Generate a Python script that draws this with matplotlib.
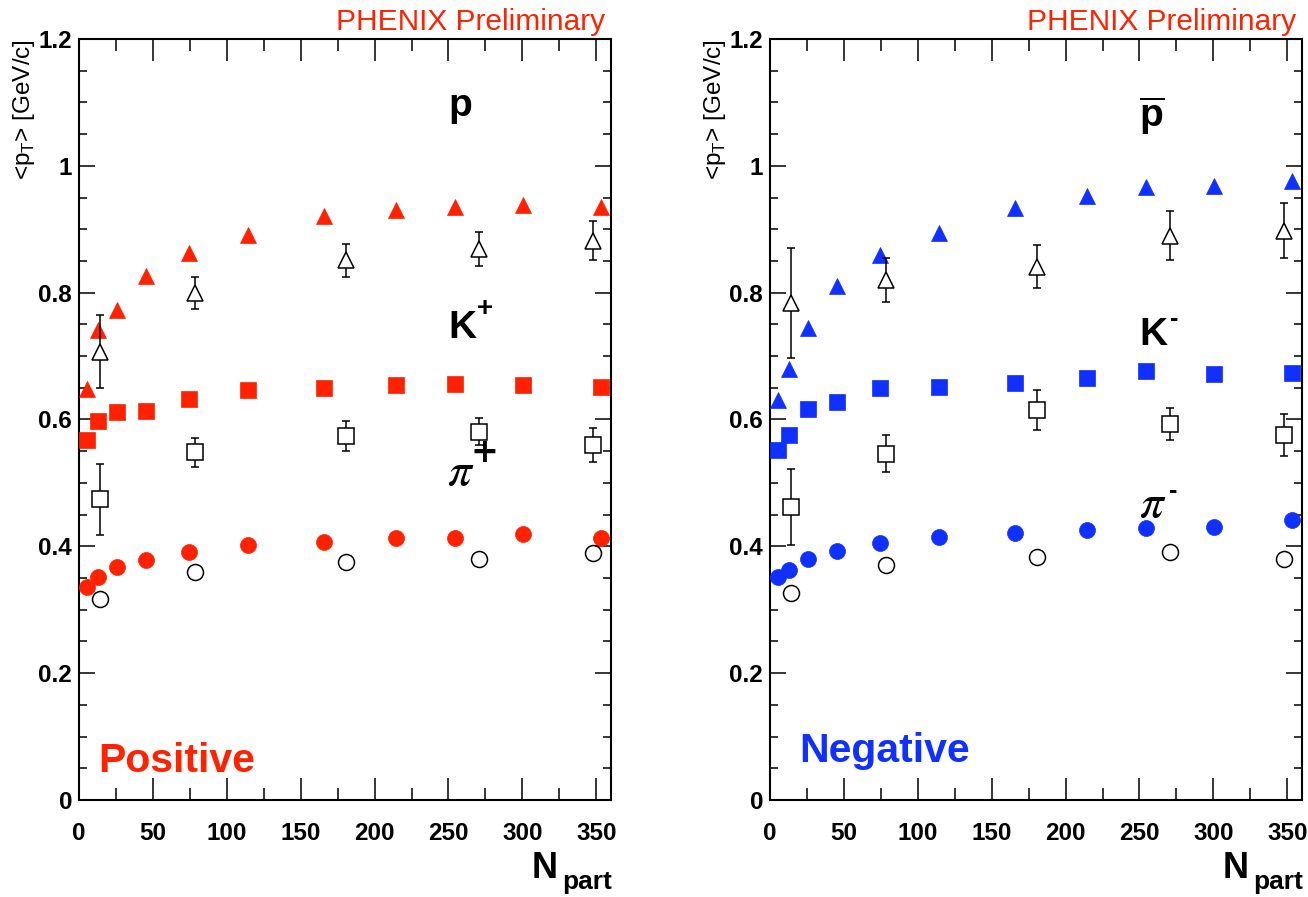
import numpy as np
import matplotlib
matplotlib.use("Agg")
import matplotlib.pyplot as plt
from matplotlib.ticker import MultipleLocator, FuncFormatter
from matplotlib.transforms import offset_copy

plt.rcParams["font.family"] = ["Liberation Sans", "DejaVu Sans"]
plt.rcParams["mathtext.fontset"] = "custom"
plt.rcParams["mathtext.rm"] = "Liberation Sans"
plt.rcParams["mathtext.bf"] = "Liberation Sans:bold"

# ---- data -------------------------------------------------------------
npart = [5.5, 13.0, 25.7, 45.5, 74.3, 114.3, 166.0, 214.6, 254.5, 300.5, 353.5]
npart_open = [13.9, 78.8, 180.5, 271.0, 348.0]

pos_pi = [0.336, 0.352, 0.367, 0.378, 0.391, 0.402, 0.407, 0.413, 0.413, 0.419, 0.413]
pos_k = [0.568, 0.598, 0.612, 0.614, 0.633, 0.647, 0.649, 0.654, 0.656, 0.654, 0.651]
pos_p = [0.648, 0.741, 0.773, 0.827, 0.862, 0.891, 0.921, 0.931, 0.935, 0.939, 0.935]

neg_pi = [0.351, 0.362, 0.380, 0.393, 0.405, 0.415, 0.421, 0.426, 0.429, 0.431, 0.442]
neg_k = [0.552, 0.575, 0.617, 0.628, 0.649, 0.652, 0.657, 0.666, 0.676, 0.671, 0.673]
neg_p = [0.631, 0.679, 0.744, 0.811, 0.860, 0.894, 0.933, 0.953, 0.966, 0.968, 0.976]

pos_pi_open = [0.317, 0.359, 0.375, 0.380, 0.389]
pos_k_open = [0.474, 0.548, 0.574, 0.581, 0.560]
pos_k_open_err = [0.056, 0.023, 0.023, 0.021, 0.027]
pos_p_open = [0.707, 0.800, 0.851, 0.869, 0.882]
pos_p_open_err = [0.057, 0.025, 0.026, 0.027, 0.031]

neg_pi_open = [0.327, 0.370, 0.383, 0.391, 0.380]
neg_k_open = [0.462, 0.546, 0.615, 0.593, 0.576]
neg_k_open_err = [0.060, 0.029, 0.031, 0.025, 0.033]
neg_p_open = [0.784, 0.820, 0.841, 0.890, 0.898]
neg_p_open_err = [0.087, 0.034, 0.034, 0.038, 0.044]

RED = "#ff2200"
BLUE = "#1030ff"

W, H = 1308, 897
AX_W = 532
fig = plt.figure(figsize=(W / 100, H / 100), dpi=100)


def make_axes(left_px):
    ax = fig.add_axes([left_px / W, (H - 800) / H, AX_W / W, 761 / H])
    ax.set_xlim(0, 360)
    ax.set_ylim(0, 1.2)
    ax.xaxis.set_major_locator(MultipleLocator(50))
    ax.xaxis.set_minor_locator(MultipleLocator(25))
    ax.yaxis.set_major_locator(MultipleLocator(0.2))
    ax.yaxis.set_minor_locator(MultipleLocator(0.05))
    ax.yaxis.set_major_formatter(FuncFormatter(lambda v, p: f"{v:g}"))
    ax.tick_params(which="both", direction="in", top=True, right=True,
                   width=1.1, colors="black")
    ax.tick_params(axis="x", which="major", length=16, pad=16)
    ax.tick_params(axis="x", which="minor", length=8.5)
    ax.tick_params(axis="y", which="major", length=11.5, pad=5)
    ax.tick_params(axis="y", which="minor", length=5.5)
    for lab in ax.get_xticklabels() + ax.get_yticklabels():
        lab.set_fontsize(17.5)
        lab.set_fontweight("bold")
    for sp in ax.spines.values():
        sp.set_linewidth(1.5)
    return ax


def draw_panel(ax, color, pi, k, p, pi_o, k_o, k_oe, p_o, p_oe):
    # filled markers
    ax.plot(npart, p, ls="none", marker="^", ms=11.5, mfc=color, mec=color,
            mew=0.5, zorder=3)
    ax.plot(npart, k, ls="none", marker="s", ms=12, mfc=color, mec=color,
            mew=0.5, zorder=3)
    ax.plot(npart, pi, ls="none", marker="o", ms=11.5, mfc=color, mec=color,
            mew=0.5, zorder=3)
    # open markers with error bars
    ax.errorbar(npart_open, p_o, yerr=p_oe, fmt="none", ecolor="black",
                elinewidth=1.1, capsize=3, capthick=1.1, zorder=4)
    ax.errorbar(npart_open, k_o, yerr=k_oe, fmt="none", ecolor="black",
                elinewidth=1.1, capsize=3, capthick=1.1, zorder=4)
    ax.plot(npart_open, p_o, ls="none", marker="^", ms=12, mfc="white",
            mec="black", mew=1.1, zorder=5)
    ax.plot(npart_open, k_o, ls="none", marker="s", ms=11.2, mfc="white",
            mec="black", mew=1.1, zorder=5)
    ax.plot(npart_open, pi_o, ls="none", marker="o", ms=11.5, mfc="none",
            mec="black", mew=1.1, zorder=5)


def sup(ax, x, y, s, dx, dy, size, family=None):
    tr = offset_copy(ax.transData, fig=fig, x=dx, y=dy, units="points")
    kw = dict(transform=tr, ha="center", va="center", fontsize=size,
              fontweight="bold", zorder=6)
    if family:
        kw["family"] = family
    ax.text(x, y, s, **kw)


axL = make_axes(79)
axR = make_axes(770)

draw_panel(axL, RED, pos_pi, pos_k, pos_p, pos_pi_open, pos_k_open,
           pos_k_open_err, pos_p_open, pos_p_open_err)
draw_panel(axR, BLUE, neg_pi, neg_k, neg_p, neg_pi_open, neg_k_open,
           neg_k_open_err, neg_p_open, neg_p_open_err)

# particle labels, left panel
axL.text(250, 1.079, "p", fontsize=28, fontweight="bold", va="baseline")
axL.text(250, 0.729, "K", fontsize=28, fontweight="bold", va="baseline")
sup(axL, 250, 0.729, "+", 26, 21, 20)
axL.text(249, 0.497, r"$\pi$", fontsize=34, math_fontfamily="stix",
         va="baseline")
sup(axL, 249, 0.497, "+", 27, 23, 24, family="DejaVu Sans")

# particle labels, right panel
axR.text(250, 1.061, r"$\overline{\mathbf{p}}$", fontsize=28, va="baseline")
axR.text(250, 0.718, "K", fontsize=28, fontweight="bold", va="baseline")
sup(axR, 250, 0.718, "-", 25, 18.5, 18)
axR.text(250, 0.446, r"$\pi$", fontsize=34, math_fontfamily="stix",
         va="baseline")
sup(axR, 250, 0.446, "-", 24.5, 19, 18)

axL.text(12.8, 0.044, "Positive", color=RED, fontsize=29.5,
         fontweight="bold", va="baseline")
axR.text(19.6, 0.060, "Negative", color=BLUE, fontsize=29.5,
         fontweight="bold", va="baseline")

# figure-level annotations for each panel
for left in (79, 770):
    right = left + AX_W
    fig.text((right - 6) / W, 1 - 30 / H, "PHENIX Preliminary", color=RED,
             fontsize=21.5, ha="right", va="baseline")
    fig.text((left - 55) / W, 1 - 39 / H, r"<p$_{\rm T}$> [GeV/c]",
             rotation=90, ha="center", va="top", fontsize=17.5)
    fig.text((right - 53) / W, 1 - 878 / H, "N", fontsize=26,
             fontweight="bold", ha="right", va="baseline")
    fig.text((right + 1) / W, 1 - 889 / H, "part", fontsize=19,
             fontweight="bold", ha="right", va="baseline")

fig.savefig("out.png", dpi=100)
